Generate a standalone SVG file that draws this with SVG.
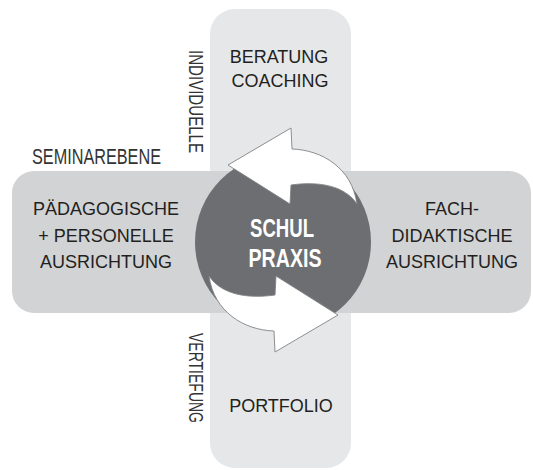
<svg xmlns="http://www.w3.org/2000/svg" width="533" height="470" viewBox="0 0 533 470">
<style>
.lbl{font-family:"Liberation Sans",Arial,sans-serif;font-size:18px;fill:#231f20;text-anchor:middle}
.cnd{font-family:"Liberation Sans Narrow","Liberation Sans",Arial,sans-serif;fill:#333333}
.ctr{font-family:"Liberation Sans",Arial,sans-serif;font-size:25px;font-weight:bold;fill:#ffffff;text-anchor:middle}
.arrow{fill:#ffffff;stroke:#808285;stroke-width:0.9;stroke-linejoin:miter}
</style>
<defs>
<path id="arr" d="M228,165 L291,128 L292,149 C322,150 352,168 357,204 C345,186 320,181 291,185 L290,204 Z"/>
</defs>
<rect width="533" height="470" fill="#ffffff"/>
<g id="vertical-bar">
<rect x="210" y="9" width="141" height="459" rx="25" fill="#e6e7e8"/>
</g>
<g id="horizontal-bar">
<rect x="12" y="171" width="519" height="142" rx="22" fill="#d1d3d4"/>
</g>
<g id="node-beratung">
<text class="lbl" x="279" y="63">BERATUNG</text>
<text class="lbl" x="280" y="87">COACHING</text>
</g>
<g id="node-paedagogisch">
<text class="lbl" x="106" y="215">PÄDAGOGISCHE</text>
<text class="lbl" x="106" y="242">+ PERSONELLE</text>
<text class="lbl" x="106" y="268">AUSRICHTUNG</text>
</g>
<g id="node-fachdidaktisch">
<text class="lbl" x="452" y="215">FACH-</text>
<text class="lbl" x="452" y="242">DIDAKTISCHE</text>
<text class="lbl" x="452" y="268">AUSRICHTUNG</text>
</g>
<g id="node-portfolio">
<text class="lbl" x="281" y="412">PORTFOLIO</text>
</g>
<g id="axis-labels">
<text class="cnd" x="32" y="164" font-size="22" textLength="129" lengthAdjust="spacingAndGlyphs">SEMINAREBENE</text>
<text class="cnd" transform="translate(189,50) rotate(90)" font-size="20" textLength="103" lengthAdjust="spacingAndGlyphs">INDIVIDUELLE</text>
<text class="cnd" transform="translate(189,333) rotate(90)" font-size="20" textLength="90" lengthAdjust="spacingAndGlyphs">VERTIEFUNG</text>
</g>
<g id="node-schulpraxis">
<circle cx="283" cy="242" r="88" fill="#6d6e71"/>
<text class="ctr" x="282" y="237" textLength="64" lengthAdjust="spacingAndGlyphs">SCHUL</text>
<text class="ctr" x="285" y="267" textLength="73" lengthAdjust="spacingAndGlyphs">PRAXIS</text>
</g>
<g id="connectors">
<use href="#arr" class="arrow"/>
<use href="#arr" class="arrow" transform="rotate(180 283 240)"/>
</g>
</svg>
